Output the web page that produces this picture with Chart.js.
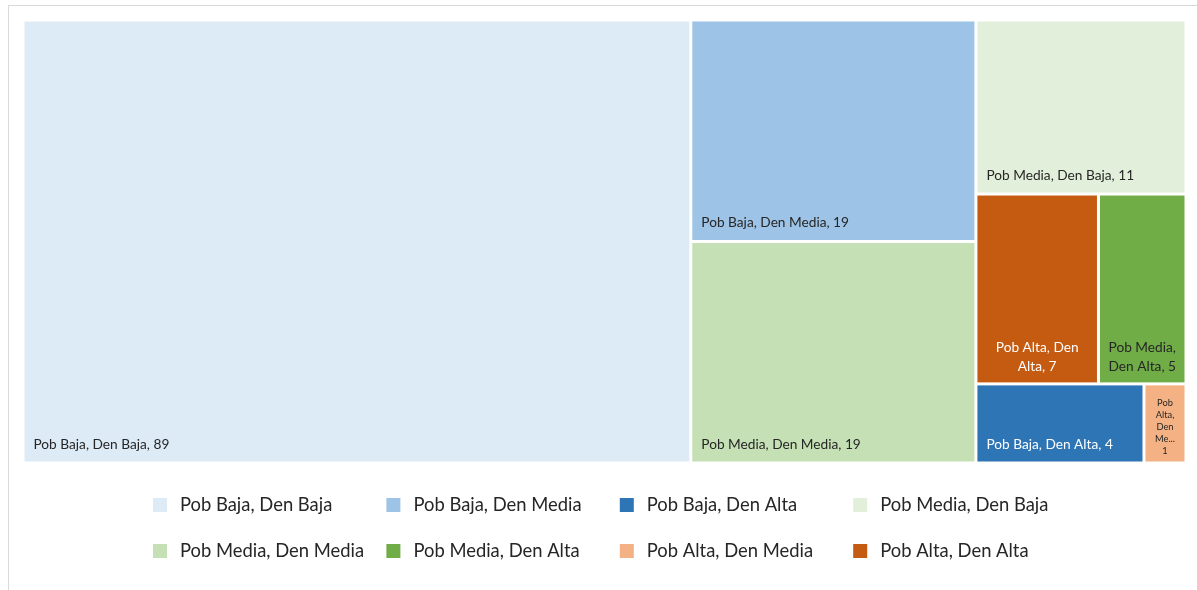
<!DOCTYPE html>
<html>
<head>
<meta charset="utf-8">
<title>Treemap</title>
<script src="https://cdn.jsdelivr.net/npm/chart.js@4.4.1/dist/chart.umd.min.js"></script>
<style>
  html, body { margin: 0; padding: 0; background: #ffffff; }
  canvas { display: block; }
</style>
</head>
<body>
<canvas id="chart" width="1197" height="590"></canvas>
<script>
// Cells of the treemap, largest first
const categories = [
  'Pob Baja, Den Baja',
  'Pob Baja, Den Media',
  'Pob Media, Den Media',
  'Pob Media, Den Baja',
  'Pob Alta, Den Alta',
  'Pob Media, Den Alta',
  'Pob Baja, Den Alta',
  'Pob Alta, Den Media'
];
const values = [89, 19, 19, 11, 7, 5, 4, 1];

// Legend entries, in the order they are listed
const legendLabels = [
  'Pob Baja, Den Baja',
  'Pob Baja, Den Media',
  'Pob Baja, Den Alta',
  'Pob Media, Den Baja',
  'Pob Media, Den Media',
  'Pob Media, Den Alta',
  'Pob Alta, Den Media',
  'Pob Alta, Den Alta'
];

// Styling
const fillFor = {
  'Pob Baja, Den Baja':   '#DDEBF7',
  'Pob Baja, Den Media':  '#9DC3E6',
  'Pob Baja, Den Alta':   '#2E75B6',
  'Pob Media, Den Baja':  '#E2EFDA',
  'Pob Media, Den Media': '#C5E0B4',
  'Pob Media, Den Alta':  '#70AD47',
  'Pob Alta, Den Media':  '#F4B183',
  'Pob Alta, Den Alta':   '#C55A11'
};
const lightText = new Set(['Pob Baja, Den Alta', 'Pob Alta, Den Alta']);
const FONT = 'Lato, "Open Sans", sans-serif';
const LABEL_SIZE = 13.7;
const SMALL_SIZE = 9.3;

// Squarified layout (rows chosen by mean aspect ratio), in pixel-proportional units
function squarify(vals, W, H) {
  const total = vals.reduce((s, v) => s + v, 0);
  const k = (W * H) / total;
  const areas = vals.map(v => v * k);
  const rects = [];
  let x = 0, y = 0, w = W, h = H, i = 0;
  const meanAspect = (row) => {
    const s = row.reduce((a, b) => a + b, 0);
    if (w >= h) {
      const cw = s / h;
      return row.reduce((acc, a) => { const ih = a / cw; return acc + Math.max(cw / ih, ih / cw); }, 0) / row.length;
    }
    const rh = s / w;
    return row.reduce((acc, a) => { const iw = a / rh; return acc + Math.max(rh / iw, iw / rh); }, 0) / row.length;
  };
  while (i < areas.length) {
    const row = [areas[i]];
    const idx = [i];
    i++;
    while (i < areas.length && meanAspect(row.concat(areas[i])) <= meanAspect(row)) {
      row.push(areas[i]); idx.push(i); i++;
    }
    const s = row.reduce((a, b) => a + b, 0);
    if (w >= h) {
      const cw = s / h;
      let yy = y;
      idx.forEach((n, j) => { const ih = row[j] / cw; rects[n] = { x: x, y: yy, w: cw, h: ih }; yy += ih; });
      x += cw; w -= cw;
    } else {
      const rh = s / w;
      let xx = x;
      idx.forEach((n, j) => { const iw = row[j] / rh; rects[n] = { x: xx, y: y, w: iw, h: rh }; xx += iw; });
      y += rh; h -= rh;
    }
  }
  return rects;
}

function wrapWords(ctx, words, avail) {
  const fitted = words.map(wd => {
    if (ctx.measureText(wd).width <= avail) return wd;
    let t = wd;
    while (t.length > 1 && ctx.measureText(t + '...').width > avail) t = t.slice(0, -1);
    return t + '...';
  });
  const lines = [];
  let cur = '';
  fitted.forEach(wd => {
    const test = cur ? cur + ' ' + wd : wd;
    if (cur && ctx.measureText(test).width > avail) { lines.push(cur); cur = wd; }
    else cur = test;
  });
  if (cur) lines.push(cur);
  return lines;
}

function drawCellLabel(ctx, text, box, color) {
  const w = box.right - box.left;
  ctx.save();
  ctx.fillStyle = color;
  ctx.textBaseline = 'middle';
  ctx.font = LABEL_SIZE + 'px ' + FONT;
  // one line, anchored bottom-left
  if (ctx.measureText(text).width <= w - 18) {
    ctx.textAlign = 'left';
    ctx.fillText(text, box.left + 9, box.bottom - 17);
    ctx.restore();
    return;
  }
  // wrapped, centred lines; smaller type when a word cannot fit
  const words = text.split(' ');
  let avail = w - 12;
  let small = false;
  if (words.some(wd => ctx.measureText(wd).width > avail)) {
    small = true;
    avail = w - 18;
    ctx.font = SMALL_SIZE + 'px ' + FONT;
  }
  const lines = wrapWords(ctx, words, avail);
  const lh = small ? 12 : 19;
  const lastY = box.bottom - (small ? 11 : 16);
  const cx = (box.left + box.right) / 2;
  ctx.textAlign = 'center';
  lines.forEach((ln, j) => {
    ctx.fillText(ln, cx, lastY - (lines.length - 1 - j) * lh);
  });
  ctx.restore();
}

const treemapPlugin = {
  id: 'treemapCells',
  afterDatasetsDraw(chart) {
    const ctx = chart.ctx;
    const area = chart.chartArea;
    const sx = chart.scales.x, sy = chart.scales.y;
    const ds = chart.data.datasets[0];
    const W = area.right - area.left, H = area.bottom - area.top;
    const rects = squarify(ds.values, W, H);
    const gap = 1.5;
    rects.forEach((r, n) => {
      const name = ds.labels[n];
      const left = sx.getPixelForValue(r.x / W) + gap;
      const right = sx.getPixelForValue((r.x + r.w) / W) - gap;
      const top = sy.getPixelForValue(r.y / H) + gap;
      const bottom = sy.getPixelForValue((r.y + r.h) / H) - gap;
      ctx.save();
      ctx.fillStyle = fillFor[name];
      ctx.fillRect(left, top, right - left, bottom - top);
      ctx.restore();
      drawCellLabel(ctx, name + ', ' + ds.values[n], { left, right, top, bottom },
        lightText.has(name) ? '#FFFFFF' : '#262626');
    });
  }
};

const gridLegendPlugin = {
  id: 'gridLegend',
  beforeDraw(chart) {
    const ctx = chart.ctx;
    ctx.save();
    ctx.strokeStyle = '#D9D9D9';
    ctx.lineWidth = 1;
    ctx.strokeRect(8.5, 5.5, chart.width + 10, chart.height + 10);
    ctx.restore();
  },
  afterDraw(chart) {
    const ctx = chart.ctx;
    const colW = 233.4, startX = 153, rowY = [505, 551], box = 14;
    ctx.save();
    ctx.font = '18.4px ' + FONT;
    ctx.textBaseline = 'middle';
    ctx.textAlign = 'left';
    legendLabels.forEach((name, n) => {
      const col = n % 4, row = Math.floor(n / 4);
      const x = startX + col * colW, y = rowY[row];
      ctx.fillStyle = fillFor[name];
      ctx.fillRect(x, y - box / 2, box, box);
      ctx.fillStyle = '#262626';
      ctx.fillText(name, x + 27, y);
    });
    ctx.restore();
  }
};

new Chart(document.getElementById('chart'), {
  type: 'scatter',
  data: {
    datasets: [{
      data: [],
      values: values,
      labels: categories
    }]
  },
  options: {
    responsive: false,
    animation: false,
    devicePixelRatio: 1,
    layout: { padding: { left: 23, top: 20, right: 11, bottom: 127 } },
    scales: {
      x: { type: 'linear', min: 0, max: 1, display: false },
      y: { type: 'linear', min: 0, max: 1, reverse: true, display: false }
    },
    plugins: {
      legend: { display: false },
      tooltip: { enabled: false }
    }
  },
  plugins: [treemapPlugin, gridLegendPlugin]
});
</script>
</body>
</html>
